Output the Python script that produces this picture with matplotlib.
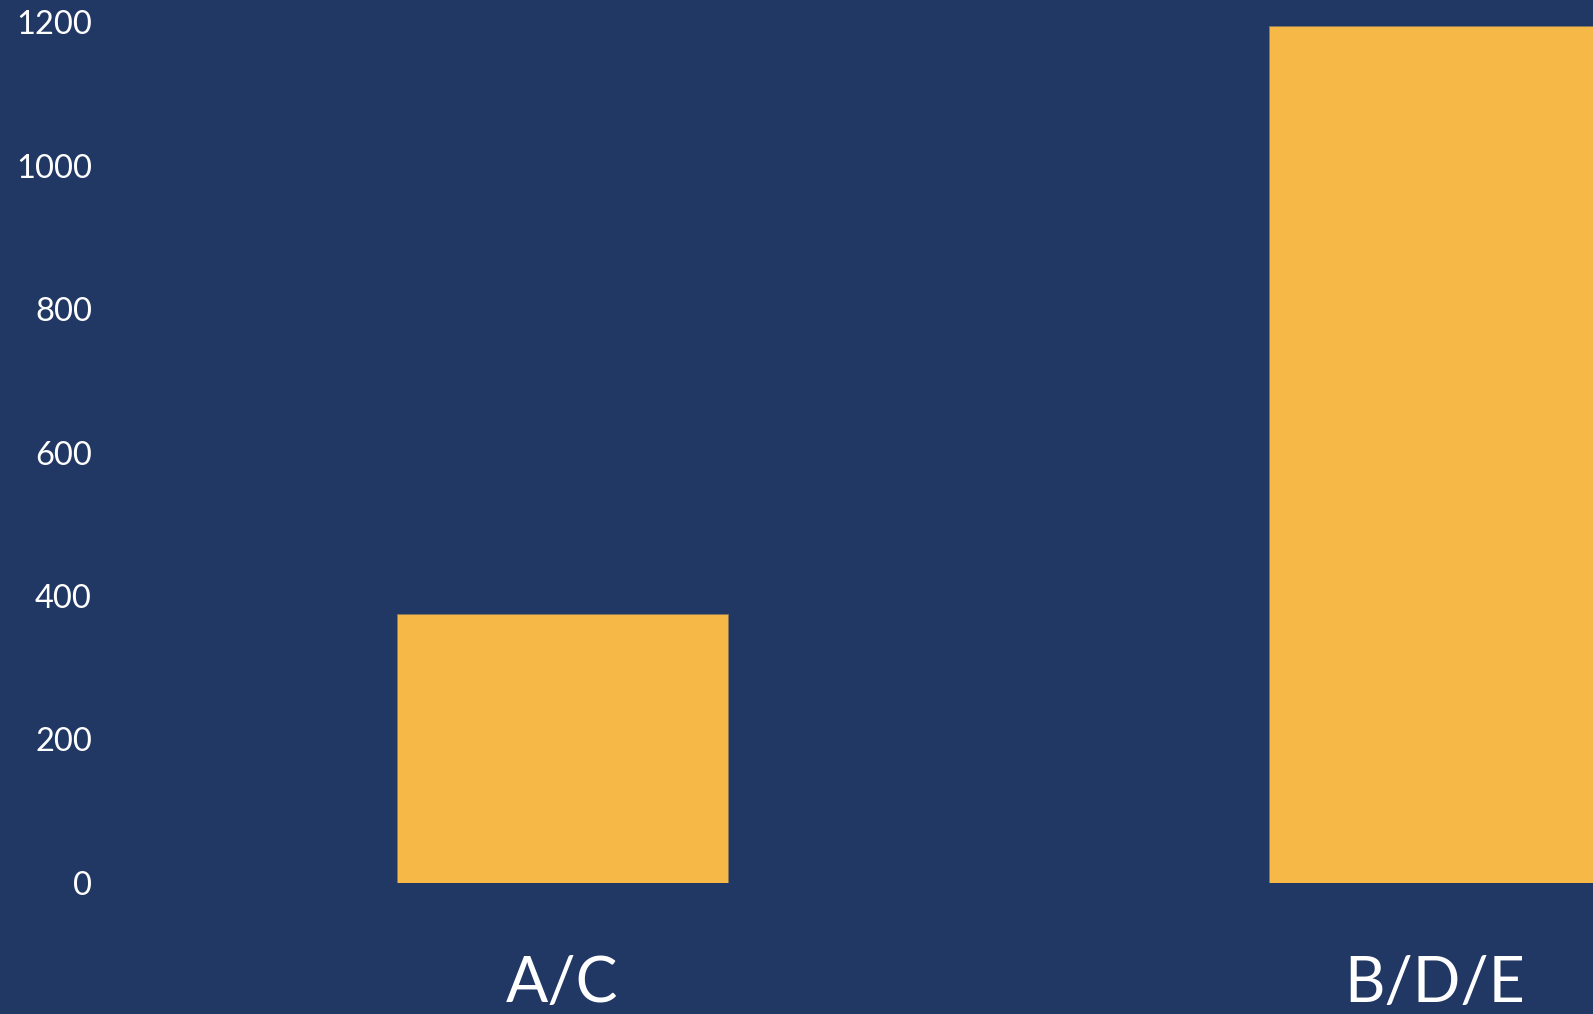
import matplotlib
matplotlib.use("Agg")
import matplotlib.pyplot as plt

# bar values per group
groups = ["A/C", "B/D/E"]
counts = [375, 1195]
y_ticks = [0, 200, 400, 600, 800, 1000, 1200]

bg = "#213864"
bar_color = "#F6B847"

plt.rcParams['font.family'] = ['Lato', 'DejaVu Sans']

fig = plt.figure(figsize=(15.93, 10.14), dpi=100, facecolor=bg)
W, H = 1593, 1014
left_px, zero_px, top_px = 110, 882.7, 22.5
ax = fig.add_axes([left_px / W, (H - zero_px) / H,
                   (W - left_px) / W, (zero_px - top_px) / H])
ax.set_facecolor(bg)

x = list(range(len(groups)))
ax.bar(x, counts, width=0.379, color=bar_color, edgecolor="#8a7a5a", linewidth=0.6)

ax.set_ylim(0, 1200)
ax.set_xlim(-0.5184, 1.1817)
ax.set_yticks(y_ticks)
ax.set_yticklabels([str(t) for t in y_ticks])
ax.set_xticks(x)
ax.set_xticklabels(groups)

for s in ax.spines.values():
    s.set_visible(False)
ax.tick_params(axis='y', length=0, pad=13, labelsize=23.5, labelcolor='white')
ax.tick_params(axis='x', length=0, pad=52, labelsize=45, labelcolor='white')

fig.savefig("out.png", dpi=100, facecolor=bg)
